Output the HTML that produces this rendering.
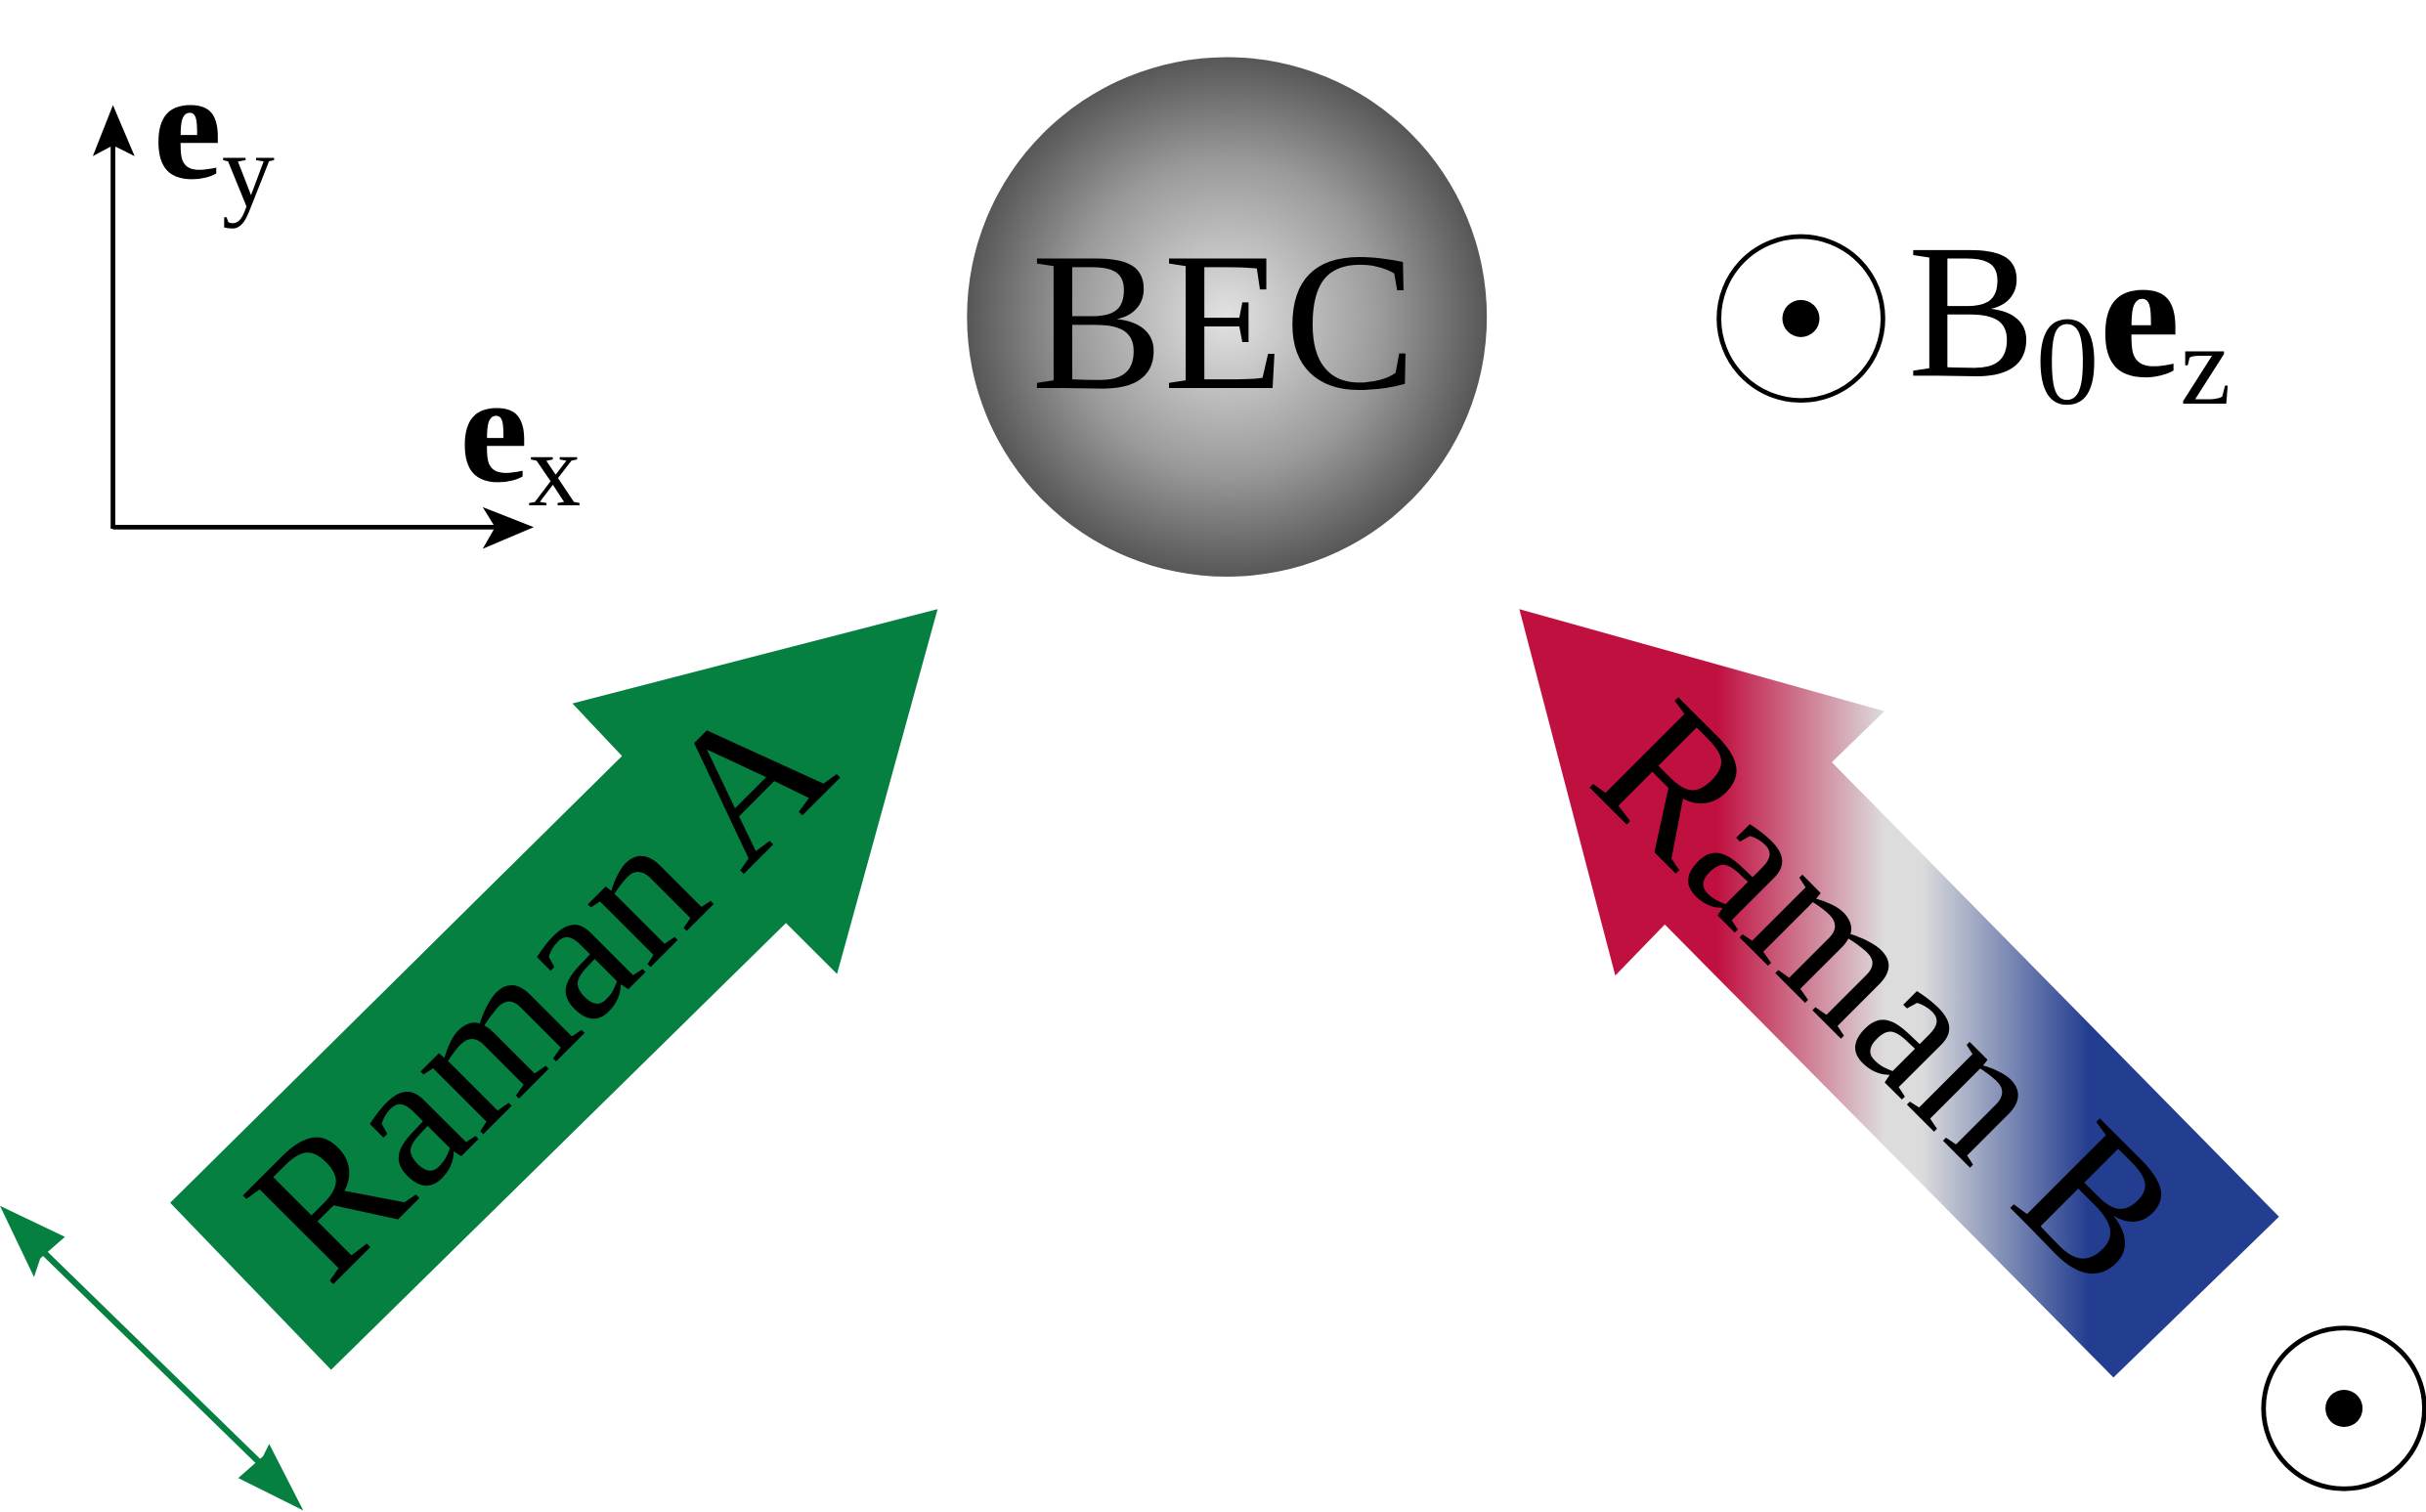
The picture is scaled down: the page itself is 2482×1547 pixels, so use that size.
<!DOCTYPE html>
<html><head><meta charset="utf-8"><style>
html,body{margin:0;padding:0;background:#fff;overflow:hidden}
svg{display:block}
text{font-family:"Liberation Serif",serif}
</style></head><body>
<svg width="2482" height="1547" viewBox="0 0 1568 978" preserveAspectRatio="none">
<defs>
<radialGradient id="bec" cx="50%" cy="50%" r="50%">
<stop offset="0" stop-color="#e2e2e2"/><stop offset="0.6" stop-color="#9a9a9a"/><stop offset="1" stop-color="#575757"/>
</radialGradient>
<linearGradient id="rb" gradientUnits="userSpaceOnUse" x1="1110" y1="0" x2="1350" y2="0">
<stop offset="0" stop-color="#c01040"/><stop offset="0.45" stop-color="#dcdcdc"/><stop offset="0.55" stop-color="#dcdcdc"/><stop offset="1" stop-color="#233e90"/>
</linearGradient>
</defs>
<g>
<line x1="73" y1="342" x2="73" y2="90" stroke="#000" stroke-width="3"/>
<polygon points="73,68 60,101 73,94 87,101" fill="#000"/>
<line x1="73" y1="341" x2="330" y2="341" stroke="#000" stroke-width="3"/>
<polygon points="345,341 312,328 320,341 312,355" fill="#000"/>
<text x="99" y="115" font-size="100" font-weight="bold">e<tspan font-size="68" font-weight="normal" dy="18">y</tspan></text>
<text x="297" y="311" font-size="100" font-weight="bold">e<tspan font-size="68" font-weight="normal" dy="16">x</tspan></text>
</g>
<circle cx="793" cy="205" r="168" fill="url(#bec)"/>
<text x="791" y="251" font-size="128" text-anchor="middle">BEC</text>
<g>
<circle cx="1164" cy="206" r="53" fill="#fff" stroke="#000" stroke-width="3"/>
<circle cx="1164" cy="206" r="12" fill="#000"/>
<text x="1233" y="243" font-size="124">B<tspan font-size="82" dy="18">0</tspan><tspan font-weight="bold" font-size="118" dy="-18">e</tspan><tspan font-size="74" dy="18">z</tspan></text>
</g>
<polygon points="110,778 402,489 370,455 606,394 541,630 508,597 214,886" fill="#058040"/>
<text transform="translate(378,668) rotate(-45)" font-size="125" text-anchor="middle">Raman A</text>
<polygon points="1366,891 1076,598 1044,631 982,394 1218,460 1184,493 1473,787" fill="url(#rb)"/>
<text transform="translate(1190,672) rotate(45)" font-size="125" text-anchor="middle">Raman B</text>
<g>
<line x1="18" y1="800" x2="180" y2="958" stroke="#058040" stroke-width="4"/>
<polygon points="0,780 42,800 26,814 22,826" fill="#058040"/>
<polygon points="196,977 154,956 170,942 174,934" fill="#058040"/>
</g>
<g>
<circle cx="1515" cy="911" r="52" fill="#fff" stroke="#000" stroke-width="3"/>
<circle cx="1515" cy="911" r="12" fill="#000"/>
</g>
</svg>
</body></html>
